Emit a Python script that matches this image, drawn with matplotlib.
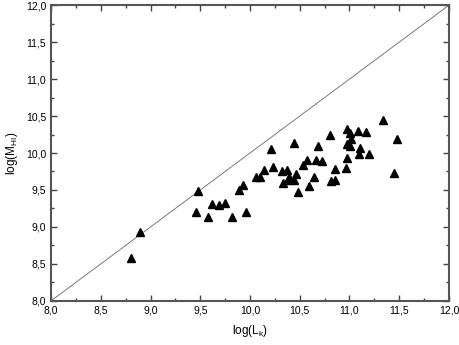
import matplotlib.pyplot as plt
import matplotlib.ticker as mticker
import numpy as np

plt.rcParams['font.family'] = ['Liberation Sans', 'DejaVu Sans']
plt.rcParams['mathtext.default'] = 'regular'

# log(L_k) and log(M_HI)
log_lk = [11.34, 10.98, 11.09, 11.17, 11.01, 10.80, 11.48, 11.02, 10.44, 10.98,
          11.01, 10.68, 10.21, 11.11, 11.10, 11.20, 10.98, 10.57, 10.66, 10.72,
          10.53, 10.23, 10.96, 10.14, 10.85, 10.32, 10.37, 10.46, 11.45, 10.06,
          10.10, 10.39, 10.64, 10.44, 10.38, 10.33, 10.81, 10.85, 9.93, 10.59,
          9.89, 10.48, 9.48, 9.62, 9.69, 9.75, 9.46, 9.58, 8.89, 8.80,
          9.82, 9.96]
log_mhi = [10.44, 10.32, 10.30, 10.28, 10.27, 10.24, 10.19, 10.19, 10.14, 10.12,
           10.10, 10.09, 10.05, 10.07, 9.99, 9.99, 9.93, 9.91, 9.90, 9.89,
           9.84, 9.81, 9.80, 9.77, 9.78, 9.75, 9.77, 9.72, 9.73, 9.67,
           9.67, 9.67, 9.68, 9.64, 9.64, 9.60, 9.62, 9.63, 9.57, 9.55,
           9.50, 9.47, 9.49, 9.31, 9.30, 9.32, 9.20, 9.14, 8.93, 8.58,
           9.13, 9.20]

fig = plt.figure(figsize=(4.6, 3.45), dpi=100)
ax = fig.add_axes([0.111, 0.128, 0.865, 0.857])

ax.plot([8, 12], [8, 12], color='#666666', linewidth=0.6)
ax.plot(log_lk, log_mhi, linestyle='none', marker='^', markersize=5.5,
        color='black')

ax.set_xlim(8, 12)
ax.set_ylim(8, 12)
ax.xaxis.set_major_locator(mticker.MultipleLocator(0.5))
ax.yaxis.set_major_locator(mticker.MultipleLocator(0.5))
ax.xaxis.set_minor_locator(mticker.MultipleLocator(0.25))
ax.yaxis.set_minor_locator(mticker.MultipleLocator(0.25))
fmt = mticker.FuncFormatter(lambda v, p: f'{v:.1f}'.replace('.', ','))
ax.xaxis.set_major_formatter(fmt)
ax.yaxis.set_major_formatter(fmt)

ax.tick_params(which='both', direction='in', top=True, right=True,
               color='#444444', labelsize=7.5, width=1)
ax.tick_params(which='major', length=4)
ax.tick_params(which='minor', length=2)
for s in ax.spines.values():
    s.set_color('#555555')
    s.set_linewidth(1.5)

ax.set_xlabel('log(L$_k$)', fontsize=8.5, labelpad=5)
ax.set_ylabel('log(M$_{HI}$)', fontsize=8.5, labelpad=4)

fig.savefig('out.png', dpi=100)
